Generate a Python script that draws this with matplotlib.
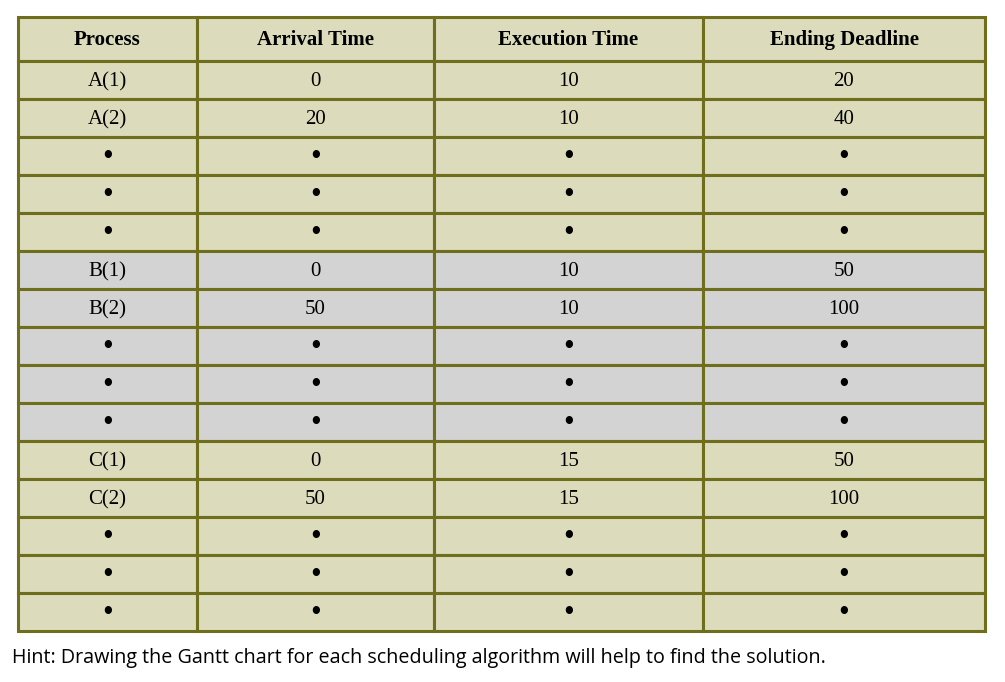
import matplotlib
matplotlib.use("Agg")
import matplotlib.pyplot as plt
from matplotlib.patches import Rectangle

headers = ["Process", "Arrival Time", "Execution Time", "Ending Deadline"]
D = "\u2022"
process = ["A(1)", "A(2)", D, D, D, "B(1)", "B(2)", D, D, D, "C(1)", "C(2)", D, D, D]
arrival = ["0", "20", D, D, D, "0", "50", D, D, D, "0", "50", D, D, D]
execution = ["10", "10", D, D, D, "10", "10", D, D, D, "15", "15", D, D, D]
deadline = ["20", "40", D, D, D, "50", "100", D, D, D, "50", "100", D, D, D]
group = ["A"] * 5 + ["B"] * 5 + ["C"] * 5
hint = "Hint: Drawing the Gantt chart for each scheduling algorithm will help to find the solution."

W, H = 1005, 682
fig = plt.figure(figsize=(W / 100, H / 100), dpi=100)
ax = fig.add_axes([0, 0, 1, 1])
ax.set_xlim(0, W); ax.set_ylim(H, 0); ax.axis("off")

colx = [18, 197, 434, 703, 985]
top, head_h, row_h = 17, 44, 38
beige, gray, edge = "#dcdcbd", "#d3d3d3", "#6e6e1c"
cols = [process, arrival, execution, deadline]

def cell(x0, x1, y0, h, color):
    ax.add_patch(Rectangle((x0, y0), x1 - x0, h, facecolor=color, edgecolor=edge, lw=2.2))

for j, hd in enumerate(headers):
    cell(colx[j], colx[j + 1], top, head_h, beige)
    ax.text((colx[j] + colx[j + 1]) / 2, top + head_h / 2 + 1, hd, ha="center", va="center",
            fontsize=15, fontweight="bold", family="Liberation Serif")
for i in range(len(process)):
    y0 = top + head_h + i * row_h
    c = gray if group[i] == "B" else beige
    for j in range(4):
        cell(colx[j], colx[j + 1], y0, row_h, c)
        t = cols[j][i]
        if t == D:
            ax.text((colx[j] + colx[j + 1]) / 2, y0 + row_h / 2 + 2, t,
                    ha="center", va="center", fontsize=22, family="Liberation Serif")
        else:
            ax.text((colx[j] + colx[j + 1]) / 2, y0 + row_h / 2 + 6, t,
                    ha="center", va="baseline", fontsize=15, family="Liberation Serif")
ax.text(12, 658, hint, ha="left", va="center", fontsize=14.2, family="Open Sans")
fig.savefig("out.png", dpi=100)
